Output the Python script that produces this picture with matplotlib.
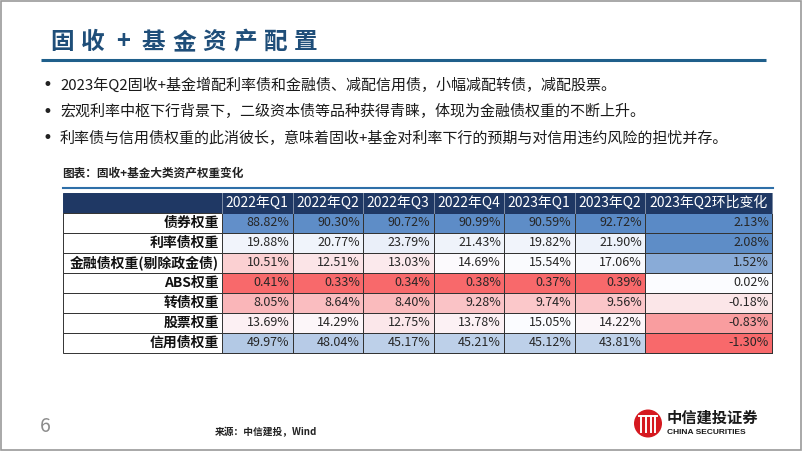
import numpy as np
import matplotlib
matplotlib.use('Agg')
import matplotlib.pyplot as plt
from matplotlib.colors import LinearSegmentedColormap, TwoSlopeNorm
from matplotlib.patches import Rectangle, Circle

plt.rcParams['font.family'] = ['Noto Sans CJK SC', 'DejaVu Sans']

# Textos de la diapositiva
title = '固收+基金资产配置'
bullets = [
    '2023年Q2固收+基金增配利率债和金融债、减配信用债，小幅减配转债，减配股票。',
    '宏观利率中枢下行背景下，二级资本债等品种获得青睐，体现为金融债权重的不断上升。',
    '利率债与信用债权重的此消彼长，意味着固收+基金对利率下行的预期与对信用违约风险的担忧并存。',
]
caption = '图表：固收+基金大类资产权重变化'
source = '来源：中信建投，Wind'
page_no = '6'

# Datos de la tabla
columns = ['2022年Q1', '2022年Q2', '2022年Q3', '2022年Q4', '2023年Q1', '2023年Q2']
change_label = '2023年Q2环比变化'
rows = ['债券权重', '利率债权重', '金融债权重(剔除政金债)', 'ABS权重', '转债权重', '股票权重', '信用债权重']
weights = np.array([
    [88.82, 90.30, 90.72, 90.99, 90.59, 92.72],
    [19.88, 20.77, 23.79, 21.43, 19.82, 21.90],
    [10.51, 12.51, 13.03, 14.69, 15.54, 17.06],
    [0.41, 0.33, 0.34, 0.38, 0.37, 0.39],
    [8.05, 8.64, 8.40, 9.28, 9.74, 9.56],
    [13.69, 14.29, 12.75, 13.78, 15.05, 14.22],
    [49.97, 48.04, 45.17, 45.21, 45.12, 43.81],
])
changes = np.array([2.13, 2.08, 1.52, 0.02, -0.18, -0.83, -1.30])

# Figura en coordenadas de pixel
fig = plt.figure(figsize=(8.02, 4.51), dpi=100)
ax = fig.add_axes([0, 0, 1, 1])
ax.set_xlim(0, 802)
ax.set_ylim(451, 0)
ax.axis('off')

# Marco de la diapositiva
ax.add_patch(Rectangle((0.5, 0.5), 800, 449, fill=False, ec='#9a9a9a', lw=1.2))

# Titulo con espaciado entre caracteres
for i, ch in enumerate(title):
    ax.text(62 + i * 30.5, 42, ch, fontsize=17, fontweight='bold', color='#1F4E79',
            ha='center', va='center')
ax.plot([41, 766], [60, 60], color='#1F5F8B', lw=2.2, solid_capstyle='butt')

# Vinetas
for i, line in enumerate(bullets):
    y = 85 + i * 26.7
    ax.text(47, y, '•', fontsize=12, color='#222222', ha='center', va='center',
            family='DejaVu Sans')
    ax.text(60, y, line, fontsize=10.8, color='#1a1a1a', ha='left', va='center')

# Titulo de la tabla
ax.text(62, 173, caption, fontsize=8.4, fontweight='bold', color='#222222', ha='left', va='center')
ax.plot([63, 773], [188, 188], color='#2E6FA8', lw=1.5)

# Geometria de la tabla
left, label_right, right = 63, 222, 772
data_edges = np.linspace(label_right, 645, len(columns) + 1)
change_edges = np.array([645, right])
top, head_h, row_h = 193, 20, 20
row_edges = top + head_h + row_h * np.arange(len(rows) + 1)

# Escala de color de 3 colores (rojo - blanco - azul)
cmap = LinearSegmentedColormap.from_list('excel3', ['#F8696B', '#FCFCFF', '#5A8AC6'])
norm_w = TwoSlopeNorm(vmin=weights.min(), vcenter=np.median(weights), vmax=weights.max())
norm_c = TwoSlopeNorm(vmin=changes.min(), vcenter=np.median(changes), vmax=changes.max())

ax.pcolormesh(data_edges, row_edges, weights, cmap=cmap, norm=norm_w,
              edgecolors='#333333', linewidth=0.7)
ax.pcolormesh(change_edges, row_edges, changes[:, None], cmap=cmap, norm=norm_c,
              edgecolors='#333333', linewidth=0.7)

# Encabezado
ax.add_patch(Rectangle((left, top), right - left, head_h, fc='#1F3864', ec='#1F3864', lw=0.7))
for x in list(data_edges) + [right]:
    ax.plot([x, x], [top, top + head_h], color='#7f8fa8', lw=0.7)
head_centers = (data_edges[:-1] + data_edges[1:]) / 2
for x, lab in zip(head_centers, columns):
    ax.text(x, top + head_h / 2, lab, fontsize=10, color='white', ha='center', va='center')
ax.text(change_edges.mean(), top + head_h / 2, change_label, fontsize=10, color='white',
        ha='center', va='center')

# Columna de etiquetas
for i, lab in enumerate(rows):
    y0 = row_edges[i]
    ax.add_patch(Rectangle((left, y0), label_right - left, row_h, fc='white', ec='#333333', lw=0.7))
    ax.text(label_right - 3, y0 + row_h / 2, lab, fontsize=10, fontweight='bold',
            color='#111111', ha='right', va='center')

# Valores
for i in range(len(rows)):
    yc = row_edges[i] + row_h / 2
    for j in range(len(columns)):
        ax.text(data_edges[j + 1] - 3, yc, f'{weights[i, j]:.2f}%', fontsize=9,
                color='#262626', ha='right', va='center')
    ax.text(right - 3, yc, f'{changes[i]:.2f}%', fontsize=9, color='#262626',
            ha='right', va='center')

# Pie de pagina
ax.text(45, 426, page_no, fontsize=14, color='#8c8c8c', ha='center', va='center')
ax.text(215, 432, source, fontsize=7, fontweight='bold', color='#222222', ha='left', va='center')

# Logotipo
ax.add_patch(Circle((648, 423.5), 14, fc='#D51920', ec='none'))
for dx in (-7, -2.5, 2.5, 7):
    ax.plot([648 + dx, 648 + dx], [416, 432], color='white', lw=1.4)
ax.plot([639, 657], [416, 416], color='white', lw=1.4)
ax.text(667, 418, '中信建投证券', fontsize=11, fontweight='bold', color='#1a1a1a',
        ha='left', va='center')
ax.text(667, 433, 'CHINA SECURITIES', fontsize=6, fontweight='bold', color='#1a1a1a',
        ha='left', va='center', family='Liberation Sans')

fig.savefig('out.png', dpi=100)
